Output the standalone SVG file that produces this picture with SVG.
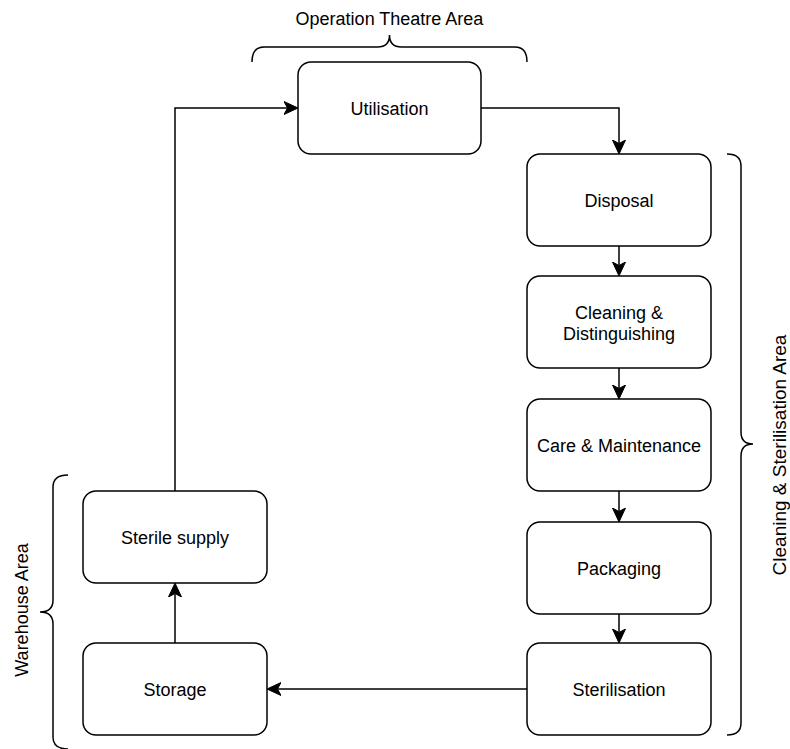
<svg xmlns="http://www.w3.org/2000/svg" width="790" height="749" viewBox="0 0 790 749">
  <style>
    .box { fill: #ffffff; stroke: #000000; stroke-width: 1.5; }
    .lbl { font-family: "Liberation Sans", Arial, Helvetica, sans-serif; font-size: 18px; fill: #000000; text-anchor: middle; }
    .edge { fill: none; stroke: #000000; stroke-width: 1.5; }
    .brace { fill: none; stroke: #000000; stroke-width: 1.5; }
  </style>
  <defs>
    <marker id="arrow" markerUnits="userSpaceOnUse" markerWidth="16" markerHeight="16" viewBox="0 -8 16 16" refX="3.5" refY="0" orient="auto">
      <path d="M0,-6.5 L14,0 L0,6.5 L3.5,0 Z" fill="#000000" stroke="#000000" stroke-width="1"/>
    </marker>
  </defs>

  <rect width="790" height="749" fill="#ffffff"/>

  <!-- connectors -->
  <g id="connectors">
    <path class="edge" d="M175 491 L175 108 L287.5 108" marker-end="url(#arrow)"/>
    <path class="edge" d="M481 108 L619 108 L619 143.5" marker-end="url(#arrow)"/>
    <path class="edge" d="M619 246 L619 265.5" marker-end="url(#arrow)"/>
    <path class="edge" d="M619 368 L619 388.5" marker-end="url(#arrow)"/>
    <path class="edge" d="M619 491 L619 511.5" marker-end="url(#arrow)"/>
    <path class="edge" d="M619 614 L619 632.5" marker-end="url(#arrow)"/>
    <path class="edge" d="M527 689 L277.5 689" marker-end="url(#arrow)"/>
    <path class="edge" d="M175 643 L175 593.5" marker-end="url(#arrow)"/>
  </g>

  <!-- process steps -->
  <g id="utilisation">
    <rect class="box" x="298" y="62" width="183" height="92" rx="13"/>
    <text class="lbl" x="389.5" y="114.5">Utilisation</text>
  </g>
  <g id="disposal">
    <rect class="box" x="527" y="154" width="184" height="92" rx="13"/>
    <text class="lbl" x="619" y="206.5">Disposal</text>
  </g>
  <g id="cleaning">
    <rect class="box" x="527" y="276" width="184" height="92" rx="13"/>
    <text class="lbl" x="619" y="319">Cleaning &amp;</text>
    <text class="lbl" x="619" y="340">Distinguishing</text>
  </g>
  <g id="care">
    <rect class="box" x="527" y="399" width="184" height="92" rx="13"/>
    <text class="lbl" x="619" y="451.5">Care &amp; Maintenance</text>
  </g>
  <g id="packaging">
    <rect class="box" x="527" y="522" width="184" height="92" rx="13"/>
    <text class="lbl" x="619" y="574.5">Packaging</text>
  </g>
  <g id="sterilisation">
    <rect class="box" x="527" y="643" width="184" height="92" rx="13"/>
    <text class="lbl" x="619" y="695.5">Sterilisation</text>
  </g>
  <g id="sterile-supply">
    <rect class="box" x="83" y="491" width="184" height="92" rx="13"/>
    <text class="lbl" x="175" y="543.5">Sterile supply</text>
  </g>
  <g id="storage">
    <rect class="box" x="83" y="643" width="184" height="92" rx="13"/>
    <text class="lbl" x="175" y="695.5">Storage</text>
  </g>

  <!-- area brackets -->
  <g id="operation-theatre-area">
    <path class="brace" d="M252 62 Q252 47 264 47 L377.5 47 Q389.5 47 389.5 35 Q389.5 47 401.5 47 L515 47 Q527 47 527 62"/>
    <text class="lbl" x="389.5" y="25">Operation Theatre Area</text>
  </g>
  <g id="cleaning-sterilisation-area">
    <path class="brace" d="M727 154 Q741 154 741 166 L741 432 Q741 444 753 444 Q741 444 741 456 L741 723 Q741 735 727 735"/>
    <text class="lbl" style="font-size:19px" transform="translate(786 455) rotate(-90)" x="0" y="0">Cleaning &amp; Sterilisation Area</text>
  </g>
  <g id="warehouse-area">
    <path class="brace" d="M68 475 Q53 475 53 487 L53 600 Q53 612 40 612 Q53 612 53 624 L53 737 Q53 749 68 749"/>
    <text class="lbl" transform="translate(28 610) rotate(-90)" x="0" y="0">Warehouse Area</text>
  </g>
</svg>
